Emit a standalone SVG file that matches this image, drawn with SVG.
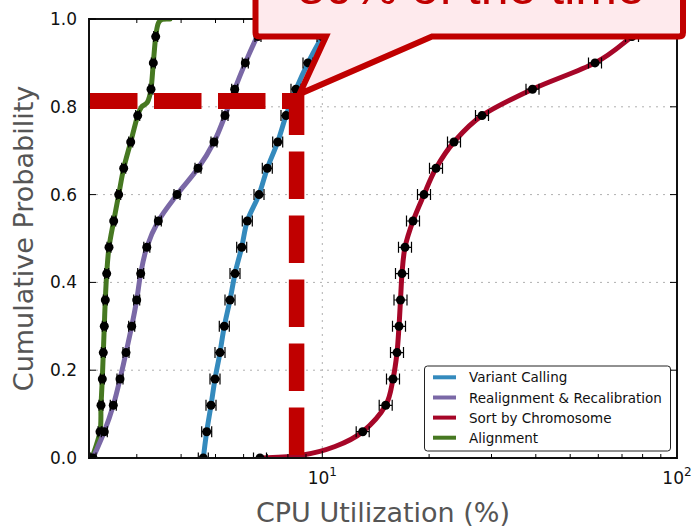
<svg xmlns="http://www.w3.org/2000/svg" width="693" height="530" viewBox="0 0 693 530">
<style>
text{font-family:"DejaVu Sans","Liberation Sans",sans-serif}
.tick{font-size:17px;fill:#111}
.lbl{font-size:27px;fill:#555}
.leg{font-size:13.5px;fill:#111}
.grid{stroke:#b0b0b0;stroke-width:1;stroke-dasharray:2 5;fill:none}
.curve{fill:none;stroke-width:5;stroke-linecap:round;stroke-linejoin:round}
.eb{stroke:#000;stroke-width:1.2;fill:none}
.tk{stroke:#000;stroke-width:1;fill:none}
.dash{stroke:#c00000;fill:none;stroke-dasharray:47.5 16.5}
.legline{stroke-width:4;fill:none}
</style>
<defs>
<clipPath id="plot"><rect x="89" y="19" width="588" height="439"/></clipPath>
<g id="mg"><path class="eb" d="M-2,0H2M-2,-5.5V5.5M2,-5.5V5.5"/><circle r="4.5"/></g>
<g id="mp"><path class="eb" d="M-3,0H3M-3,-5.5V5.5M3,-5.5V5.5"/><circle r="4.5"/></g>
<g id="mb"><path class="eb" d="M-5,0H5M-5,-5.5V5.5M5,-5.5V5.5"/><circle r="4.5"/></g>
<g id="mr"><path class="eb" d="M-6.5,0H6.5M-6.5,-5.5V5.5M6.5,-5.5V5.5"/><circle r="4.5"/></g>
</defs>
<rect width="693" height="530" fill="#fff"/>

<g id="grid">
<path class="grid" d="M89,370.2H677M89,282.4H677M89,194.6H677M89,106.8H677M322.3,19V458"/>
</g>

<g id="connectors" clip-path="url(#plot)">
<g id="alignment">
<path class="curve" stroke="#467821" d="M92,458 C93.3,453.6 98.5,440.5 100,431.7 S100.6,414.1 101,405.3 S101.9,387.8 102.3,379 S103,361.4 103.3,352.6 S104,335.1 104.3,326.3 S104.9,308.8 105.3,300 S106.1,282.4 106.7,273.6 S107.8,256.1 109,247.3 S112.1,229.8 113.7,221 S117,203.4 118.7,194.6 S121.7,177.1 123.7,168.3 S128.4,150.8 130.7,142 S135.9,121.4 137.7,115.6 S139.9,109.3 141.5,107 S145.9,105 147.5,102 S150,95.7 151,89.2 S152.5,71.7 153.3,62.9 S154.9,43.1 155.7,36.6 S157,26.9 158,24 S160,20.3 162,19.5 S168.7,19.1 170,19"/>
<use href="#mg" x="92" y="458"/><use href="#mg" x="100" y="431.7"/><use href="#mg" x="101" y="405.3"/><use href="#mg" x="102.3" y="379"/><use href="#mg" x="103.3" y="352.6"/><use href="#mg" x="104.3" y="326.3"/><use href="#mg" x="105.3" y="300"/><use href="#mg" x="106.7" y="273.6"/><use href="#mg" x="109" y="247.3"/><use href="#mg" x="113.7" y="221"/><use href="#mg" x="118.7" y="194.6"/><use href="#mg" x="123.7" y="168.3"/><use href="#mg" x="130.7" y="142"/><use href="#mg" x="137.7" y="115.6"/><use href="#mg" x="151" y="89.2"/><use href="#mg" x="153.3" y="62.9"/><use href="#mg" x="155.7" y="36.6"/>
</g>
<g id="realignment">
<path class="curve" stroke="#7A68A6" d="M93,458 C94.9,453.6 100.9,440.5 104.3,431.7 S110.7,414.1 113.3,405.3 S117.9,387.8 120,379 S124.1,361.4 126,352.6 S129.9,335.1 131.7,326.3 S135.2,308.8 136.7,300 S139,282.4 140.7,273.6 S143.9,256.1 146.8,247.3 S153.3,229.8 158.3,221 S170.4,203.4 177,194.6 S191.8,177.1 198,168.3 S209.5,150.8 214,142 S221.6,124.4 225,115.6 S231.3,98 234.7,89.2 S241.6,71.7 245.3,62.9 S253.6,43.9 257,36.6 S264.5,21.9 266,19"/>
<use href="#mp" x="93" y="458"/><use href="#mp" x="104.3" y="431.7"/><use href="#mp" x="113.3" y="405.3"/><use href="#mp" x="120" y="379"/><use href="#mp" x="126" y="352.6"/><use href="#mp" x="131.7" y="326.3"/><use href="#mp" x="136.7" y="300"/><use href="#mp" x="140.7" y="273.6"/><use href="#mp" x="146.8" y="247.3"/><use href="#mp" x="158.3" y="221"/><use href="#mp" x="177" y="194.6"/><use href="#mp" x="198" y="168.3"/><use href="#mp" x="214" y="142"/><use href="#mp" x="225" y="115.6"/><use href="#mp" x="234.7" y="89.2"/><use href="#mp" x="245.3" y="62.9"/><use href="#mp" x="258" y="36.6"/>
</g>
<g id="variant">
<path class="curve" stroke="#348ABD" d="M203.3,458 C203.9,453.6 205.4,440.5 206.7,431.7 S209.6,414.1 211,405.3 S213.5,387.8 215,379 S218.5,361.4 220,352.6 S222.6,335.1 224.3,326.3 S228.2,308.8 230,300 S233.1,282.4 235,273.6 S239.6,256.1 241.7,247.3 S244.4,229.8 247.3,221 S255.7,203.4 259,194.6 S264.2,177.1 267.3,168.3 S274.6,150.8 277.7,142 S283,124.4 286,115.6 S292.3,98 296,89.2 S303.7,71.7 308,62.9 S318,43.9 322,36.6 S330.3,21.9 332,19"/>
<use href="#mb" x="203.3" y="458"/><use href="#mb" x="206.7" y="431.7"/><use href="#mb" x="211" y="405.3"/><use href="#mb" x="215" y="379"/><use href="#mb" x="220" y="352.6"/><use href="#mb" x="224.3" y="326.3"/><use href="#mb" x="230" y="300"/><use href="#mb" x="235" y="273.6"/><use href="#mb" x="241.7" y="247.3"/><use href="#mb" x="247.3" y="221"/><use href="#mb" x="259" y="194.6"/><use href="#mb" x="267.3" y="168.3"/><use href="#mb" x="277.7" y="142"/><use href="#mb" x="286" y="115.6"/><use href="#mb" x="296" y="89.2"/><use href="#mb" x="308" y="62.9"/><use href="#mb" x="322" y="36.6"/>
</g>
<g id="sort">
<path class="curve" stroke="#A60628" d="M260,458 C266.7,457.6 287.5,457.4 300,455.5 S324.6,450.5 335,446.5 S354.3,438.6 362.7,431.7 S380.7,414.1 385.7,405.3 S391.1,387.8 393,379 S396,361.4 397,352.6 S398.4,335.1 399,326.3 S400,308.8 400.5,300 S401.3,282.4 402,273.6 S403.2,256.1 405,247.3 S409.8,229.8 413,221 S420.2,203.4 424,194.6 S431,177.1 436,168.3 S446.3,150.8 454,142 S468.9,124.4 482,115.6 S513.7,98 532.5,89.2 S578.8,71.4 595,62.9 S620.8,45.2 630,38 S646.7,23 650,20"/>
<use href="#mr" x="260" y="458"/><use href="#mr" x="362.7" y="431.7"/><use href="#mr" x="385.7" y="405.3"/><use href="#mr" x="393" y="379"/><use href="#mr" x="397" y="352.6"/><use href="#mr" x="399" y="326.3"/><use href="#mr" x="400.5" y="300"/><use href="#mr" x="402" y="273.6"/><use href="#mr" x="405" y="247.3"/><use href="#mr" x="413" y="221"/><use href="#mr" x="424" y="194.6"/><use href="#mr" x="436" y="168.3"/><use href="#mr" x="454" y="142"/><use href="#mr" x="482" y="115.6"/><use href="#mr" x="532.5" y="89.2"/><use href="#mr" x="595" y="62.9"/><use href="#mr" x="632" y="36.6"/>
</g>
</g>

<g id="axes">
<rect x="89" y="19" width="588" height="439" fill="none" stroke="#111" stroke-width="2"/>
<path class="tk" d="M89,458h7M89,370.2h7M89,282.4h7M89,194.6h7M89,106.8h7M89,19h7M677,458h-7M677,370.2h-7M677,282.4h-7M677,194.6h-7M677,106.8h-7M677,19h-7M322.3,458v-7M322.3,19v7M136.8,458v-4M181.1,458v-4M215.5,458v-4M243.6,458v-4M267.3,458v-4M287.9,458v-4M306,458v-4M429.1,458v-4M491.5,458v-4M535.8,458v-4M570.2,458v-4M598.3,458v-4M622,458v-4M642.6,458v-4M660.8,458v-4M136.8,19v4M181.1,19v4M215.5,19v4M243.6,19v4M267.3,19v4M287.9,19v4M306,19v4M429.1,19v4M491.5,19v4M535.8,19v4M570.2,19v4M598.3,19v4M622,19v4M642.6,19v4M660.8,19v4"/>
<g class="tick" text-anchor="end">
<text x="77" y="464">0.0</text><text x="77" y="376.2">0.2</text><text x="77" y="288.4">0.4</text><text x="77" y="200.6">0.6</text><text x="77" y="112.8">0.8</text><text x="77" y="25">1.0</text>
</g>
<g class="tick" text-anchor="middle">
<text x="322.3" y="484">10<tspan dy="-8" font-size="12">1</tspan></text>
<text x="677" y="484">10<tspan dy="-8" font-size="12">2</tspan></text>
</g>
<text class="lbl" x="383" y="522" text-anchor="middle">CPU Utilization (%)</text>
<text class="lbl" transform="translate(33,238.5) rotate(-90)" text-anchor="middle">Cumulative Probability</text>
</g>

<g id="legend">
<rect x="424.5" y="366" width="246" height="85" rx="3" fill="#fff" stroke="#222" stroke-width="1"/>
<path class="legline" stroke="#348ABD" d="M433,377.3H456"/>
<path class="legline" stroke="#7A68A6" d="M433,397.5H456"/>
<path class="legline" stroke="#A60628" d="M433,417.6H456"/>
<path class="legline" stroke="#467821" d="M433,437.7H456"/>
<text class="leg" x="469" y="382.3">Variant Calling</text>
<text class="leg" x="469" y="402.5">Realignment &amp; Recalibration</text>
<text class="leg" x="469" y="422.6">Sort by Chromosome</text>
<text class="leg" x="469" y="442.7">Alignment</text>
</g>

<g id="highlight">
<path class="dash" stroke-width="16" d="M90,101H304"/>
<path class="dash" stroke-width="15.5" d="M296.6,455V93"/>
</g>

<g id="callout">
<path d="M255.5,-20V32.5Q255.5,36.5 259.5,36.5H326L299.5,94L432,36.5H679Q683,36.5 683,32.5V-20Z" fill="#feeaed" stroke="#c00000" stroke-width="6" stroke-linejoin="miter"/>
<text x="471" y="3.5" text-anchor="middle" font-size="50" fill="#c00000" style="font-family:'Liberation Sans',Arial,sans-serif">80% of the time</text>
</g>
</svg>
